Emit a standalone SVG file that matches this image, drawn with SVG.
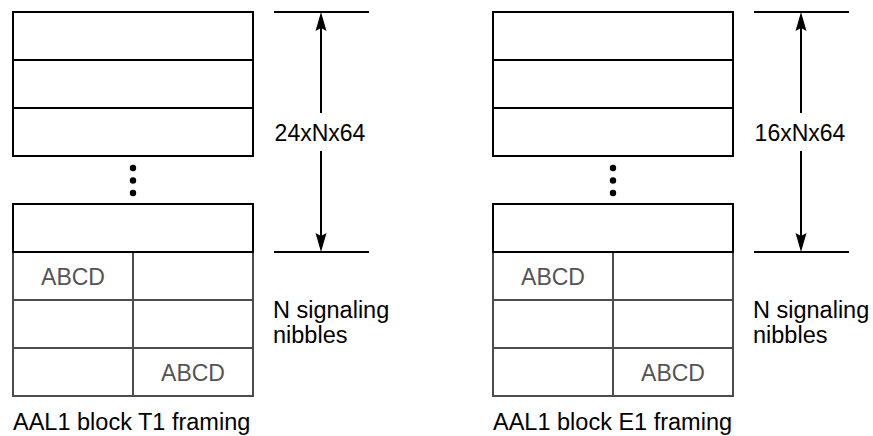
<svg xmlns="http://www.w3.org/2000/svg" width="873" height="436" viewBox="0 0 873 436">
<style>
.blk{fill:#fff;stroke:#000;stroke-width:2}
.grid{fill:#fff;stroke:#4d4d4d;stroke-width:2}
.gline{stroke:#4d4d4d;stroke-width:2}
.dim{stroke:#000;stroke-width:2;fill:none}
.ah{fill:#000}
.t{font-family:"Liberation Sans",Arial,sans-serif;font-size:23.5px;fill:#000}
.g{font-family:"Liberation Sans",Arial,sans-serif;font-size:23px;fill:#555;text-anchor:middle}
.dot{fill:#000}
</style>
<defs>
<g id="block">
<rect class="blk" x="13" y="12" width="240" height="48"/>
<rect class="blk" x="13" y="60" width="240" height="48"/>
<rect class="blk" x="13" y="108" width="240" height="48"/>
<circle class="dot" cx="133" cy="168" r="3.2"/>
<circle class="dot" cx="133" cy="180.5" r="3.2"/>
<circle class="dot" cx="133" cy="193" r="3.2"/>
<rect class="grid" x="13" y="252" width="240" height="144"/>
<line class="gline" x1="13" y1="300" x2="253" y2="300"/>
<line class="gline" x1="13" y1="348" x2="253" y2="348"/>
<line class="gline" x1="133" y1="252" x2="133" y2="396"/>
<rect class="blk" x="13" y="204" width="240" height="48"/>
<text class="g" x="73" y="284.5">ABCD</text>
<text class="g" x="193" y="380.5">ABCD</text>
</g>
<g id="dims">
<line class="dim" x1="274" y1="12" x2="369" y2="12"/>
<line class="dim" x1="274" y1="252" x2="369" y2="252"/>
<line class="dim" x1="321" y1="26" x2="321" y2="113"/>
<line class="dim" x1="321" y1="151" x2="321" y2="238"/>
<path class="ah" d="M321 12 L326.5 31 L321 28 L315.5 31 Z"/>
<path class="ah" d="M321 252 L326.5 233 L321 236 L315.5 233 Z"/>
</g>
</defs>
<g id="t1-block">
<use href="#block"/>
<text class="t" x="13" y="430">AAL1 block T1 framing</text>
</g>
<g id="e1-block" transform="translate(480,0)">
<use href="#block"/>
<text class="t" x="13" y="430">AAL1 block E1 framing</text>
</g>
<g id="connectors">
<use href="#dims"/>
<use href="#dims" transform="translate(480,0)"/>
</g>
<g id="labels">
<text class="t" x="320" y="141" text-anchor="middle" style="font-size:23px">24xNx64</text>
<text class="t" x="800" y="141" text-anchor="middle" style="font-size:23px">16xNx64</text>
<text class="t" x="273" y="318">N signaling</text>
<text class="t" x="273" y="343">nibbles</text>
<text class="t" x="753" y="318">N signaling</text>
<text class="t" x="753" y="343">nibbles</text>
</g>
</svg>
